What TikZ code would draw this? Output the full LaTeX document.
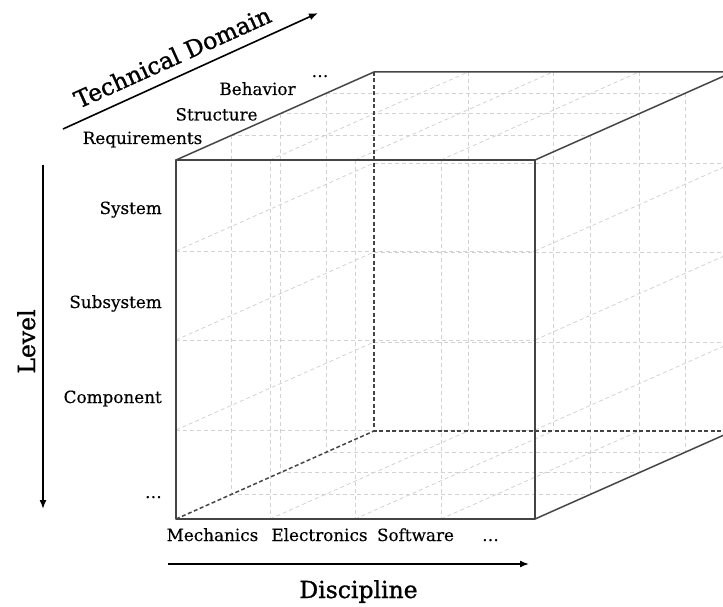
\documentclass[tikz,border=0pt]{standalone}
\usepackage{fontspec}
\setmainfont{DejaVu Serif}
\newfontfamily\labelserif[FakeBold=0.35]{DejaVu Serif}
\newfontfamily\headserif[FakeBold=1.1]{DejaVu Serif}
\usetikzlibrary{arrows.meta}
\definecolor{gridgray}{RGB}{210,210,210}
\definecolor{edgegray}{RGB}{68,68,68}
\begin{document}
\begin{tikzpicture}[x=1pt,y=-1pt,z={(198pt,88pt)},
  gridline/.style={draw=gridgray,line width=0.8pt,dash pattern=on 4pt off 3pt},
  hiddenedge/.style={draw=edgegray,line width=1.5pt,dash pattern=on 4pt off 2.5pt},
  cubeedge/.style={draw=edgegray,line width=1.5pt,line join=round},
  axisarrow/.style={draw=black,line width=1.6pt,-{Latex[length=9pt,width=7pt]}},
  smalllabel/.style={inner sep=0pt,font=\labelserif\fontsize{16.8}{20}\selectfont},
  biglabel/.style={inner sep=0pt,font=\headserif\fontsize{23.5}{28}\selectfont}]
\useasboundingbox (0,0) rectangle (723,607);

% corners of the cube (x = discipline, y = level, z = technical domain)
\coordinate (ftl) at (176,160,0);
\coordinate (ftr) at (535,160,0);
\coordinate (fbl) at (176,519,0);
\coordinate (fbr) at (535,519,0);
\coordinate (btl) at (176,160,1);
\coordinate (btr) at (535,160,1);
\coordinate (bbl) at (176,519,1);
\coordinate (bbr) at (535,519,1);

\begin{scope}
  \clip (0,0) rectangle (723,607);
  % grid lines on front and back faces
  \foreach \zz in {0,1}{
    \foreach \xx in {270,355,441}
      \draw[gridline] (\xx,160,\zz) -- (\xx,519,\zz);
    \foreach \yy in {251,340,430}
      \draw[gridline] (176,\yy,\zz) -- (535,\yy,\zz);
  }
  % grid lines on top and bottom faces
  \foreach \yy in {160,519}{
    \foreach \xx in {270,355,441}
      \draw[gridline] (\xx,\yy,0) -- (\xx,\yy,1);
    \foreach \zz in {0.28,0.525,0.76}
      \draw[gridline] (176,\yy,\zz) -- (535,\yy,\zz);
  }
  % grid lines on left and right faces
  \foreach \xx in {176,535}{
    \foreach \yy in {251,340,430}
      \draw[gridline] (\xx,\yy,0) -- (\xx,\yy,1);
    \foreach \zz in {0.28,0.525,0.76}
      \draw[gridline] (\xx,160,\zz) -- (\xx,519,\zz);
  }
  % hidden edges
  \draw[hiddenedge] (btl) -- (bbl) -- (bbr);
  \draw[hiddenedge] (fbl) -- (bbl);
  % visible edges
  \draw[cubeedge] (ftl) rectangle (fbr);
  \draw[cubeedge] (ftl) -- (btl) -- (btr) -- (ftr);
  \draw[cubeedge] (fbr) -- (bbr) -- (btr);
\end{scope}

% technical domain axis
\coordinate (tdA) at (63,129);
\coordinate (tdB) at (318,13);
\draw[axisarrow] (tdA) -- (tdB);
\node[biglabel,anchor=base,rotate=24.3] (tdlabel) at (176,65) {Technical Domain};
\node[smalllabel,anchor=base] (req) at (142.5,144) {Requirements};
\node[smalllabel,anchor=base] (struct) at (216.5,120.5) {Structure};
\node[smalllabel,anchor=base] (behav) at (257.5,95) {Behavior};
\node[smalllabel,anchor=base] (tdmore) at (320,77) {…};

% level axis
\coordinate (lvA) at (43,165);
\coordinate (lvB) at (43,509);
\draw[axisarrow] (lvA) -- (lvB);
\node[biglabel,anchor=base,rotate=90] (lvlabel) at (35,341.5) {Level};
\node[smalllabel,anchor=base east] (sys) at (162,214) {System};
\node[smalllabel,anchor=base east] (subsys) at (162,308) {Subsystem};
\node[smalllabel,anchor=base east] (comp) at (162,403) {Component};
\node[smalllabel,anchor=base east] (lvmore) at (162,498) {…};

% discipline axis
\coordinate (dcA) at (168,564);
\coordinate (dcB) at (529,564);
\draw[axisarrow] (dcA) -- (dcB);
\node[biglabel,anchor=base] (dclabel) at (358.5,598) {Discipline};
\node[smalllabel,anchor=base] (mech) at (212.5,541) {Mechanics};
\node[smalllabel,anchor=base] (elec) at (319.5,541) {Electronics};
\node[smalllabel,anchor=base] (soft) at (415.5,541) {Software};
\node[smalllabel,anchor=base] (dcmore) at (490.5,541) {…};
\end{tikzpicture}
\end{document}
